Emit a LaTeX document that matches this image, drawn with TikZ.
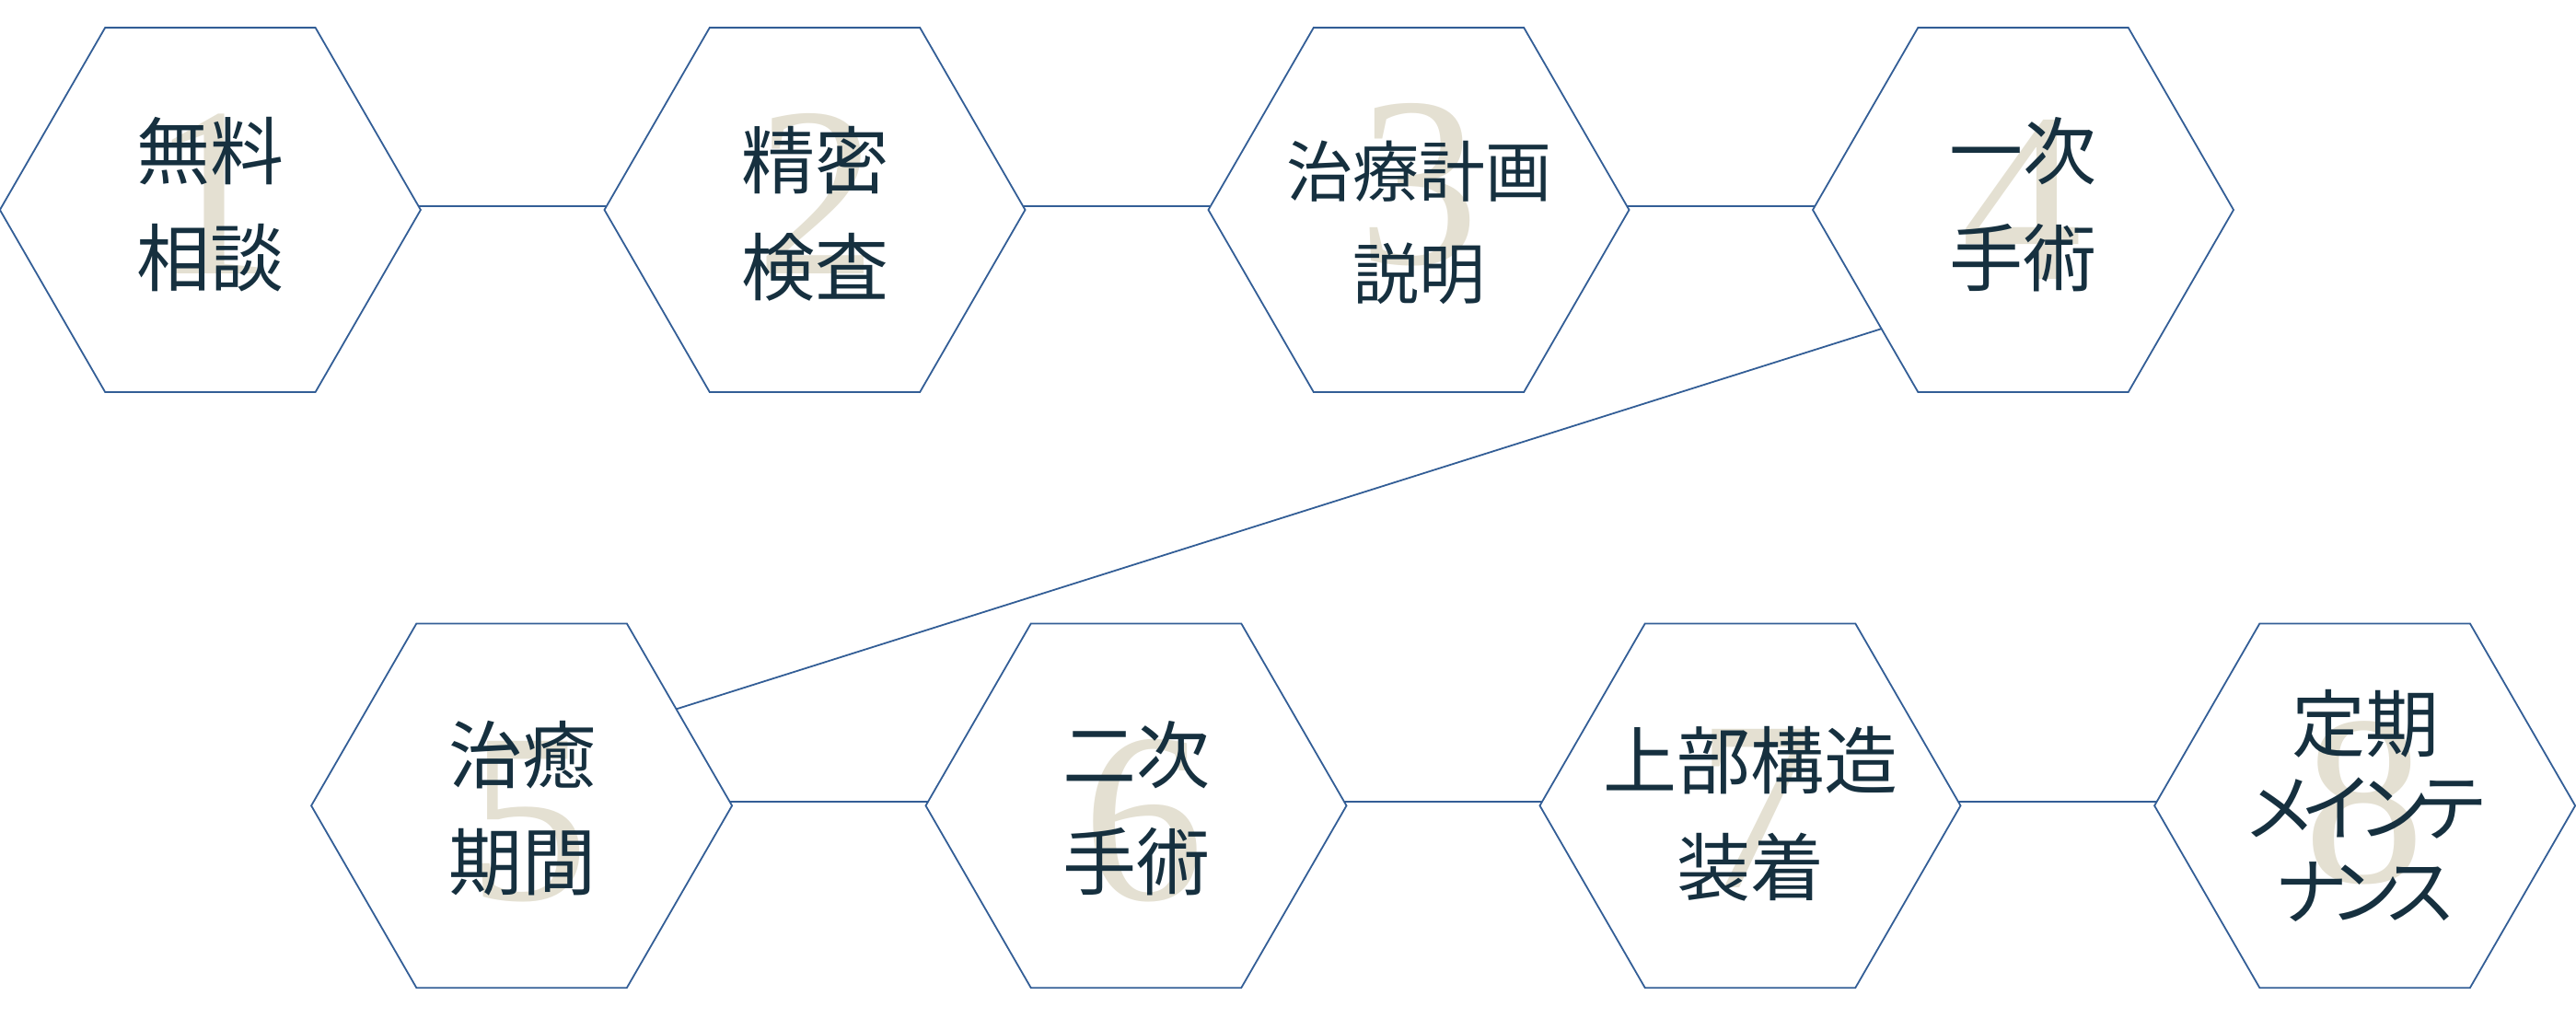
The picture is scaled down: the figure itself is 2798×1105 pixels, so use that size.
\documentclass[tikz,border=0pt]{standalone}
\usepackage{fontspec}
\setmainfont{Liberation Serif}
\newfontfamily\jpfont{Noto Sans CJK JP}
\usetikzlibrary{shapes.geometric}
\definecolor{hexline}{HTML}{335E96}
\definecolor{inktext}{HTML}{16303F}
\definecolor{numbeige}{HTML}{E4E0D2}
\newcommand{\kk}{\kern-9pt}
\newcommand{\kn}{\kern-10.5pt}
\begin{document}
\begin{tikzpicture}[x=0.5pt,y=-0.5pt,
  hexbox/.style={draw=hexline, line width=0.9pt, shape=regular polygon,
    regular polygon sides=6, minimum size=228.5pt, inner sep=0pt, outer sep=0pt},
  bignum/.style={text=numbeige, font=\fontsize{131.5pt}{131.5pt}\selectfont, inner sep=0pt},
  steplabel/.style={text=inktext, align=center, inner sep=0pt,
    font=\jpfont\fontsize{40pt}{58pt}\selectfont},
  link/.style={draw=hexline, line width=0.9pt}]
\useasboundingbox (0,0) rectangle (2798,1105);
% hexagons
\node[hexbox] (h1) at (228.4,228) {};
\node[hexbox] (h2) at (885,228) {};
\node[hexbox] (h3) at (1541,228) {};
\node[hexbox] (h4) at (2197.5,228) {};
\node[hexbox] (h5) at (566.6,875.3) {};
\node[hexbox] (h6) at (1234,875.3) {};
\node[hexbox] (h7) at (1901,875.3) {};
\node[hexbox] (h8) at (2568.6,875.3) {};
% big numbers
\node[bignum] (n1) at (229,211) {1};
\node[bignum] (n2) at (887,210) {2};
\node[bignum] (n3) at (1541,201) {3};
\node[bignum] (n4) at (2196,217) {4};
\node[bignum] (n5) at (574,893) {5};
\node[bignum] (n6) at (1242,892) {6};
\node[bignum] (n7) at (1908,878) {7};
\node[bignum] (n8) at (2568,872) {8};
% labels
\node[steplabel] (t1) at (228,222) {無料\\相談};
\node[steplabel] (t2) at (885,232) {精密\\検査};
\node[steplabel, font=\jpfont\fontsize{36pt}{55.5pt}\selectfont] (t3) at (1541,242) {治療計画\\説明};
\node[steplabel] (t4) at (2197,222) {一次\\手術};
\node[steplabel] (t5) at (567,878) {治癒\\期間};
\node[steplabel] (t6) at (1234,878) {二次\\手術};
\node[steplabel] (t7) at (1901,884) {上部構造\\装着};
\node[steplabel, font=\jpfont\fontsize{40pt}{45.5pt}\selectfont] (t8) at (2569,875)
  {定期\\メ\kk イ\kk ン\kk テ\\ナ\kn ン\kn ス};
% connectors
\draw[link] (h1.1) -- (h2.179);
\draw[link] (h2.1) -- (h3.179);
\draw[link] (h3.1) -- (h4.179);
\draw[link] (h4.220) -- (h5.32);
\draw[link] (h5.1) -- (h6.179);
\draw[link] (h6.1) -- (h7.179);
\draw[link] (h7.1) -- (h8.179);
\end{tikzpicture}
\end{document}
